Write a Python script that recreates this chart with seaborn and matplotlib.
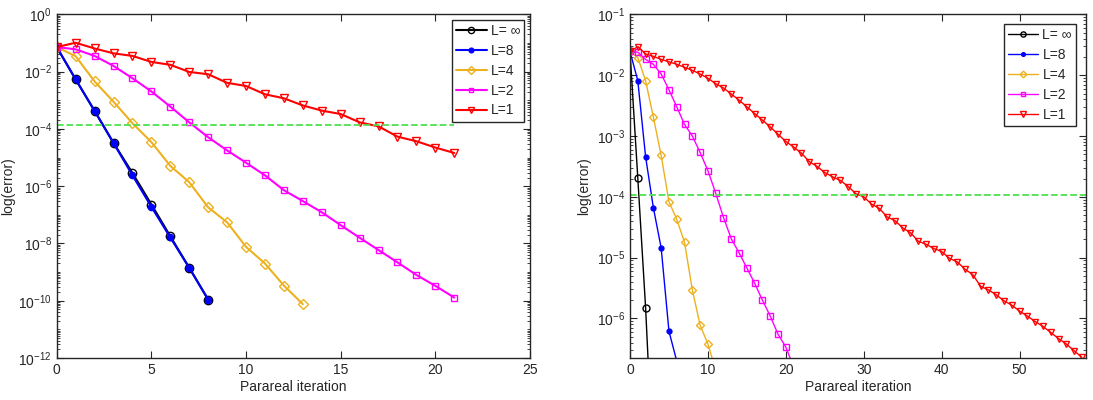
import numpy as np
import pandas as pd
import matplotlib
matplotlib.use("Agg")
import matplotlib.pyplot as plt
import seaborn as sns
from matplotlib.ticker import LogLocator, LogFormatterSciNotation, FixedLocator, NullFormatter

# ------------------------ DATA (log10 of error) --------------------------

LABELS = ["L= \u221e", "L=8", "L=4", "L=2", "L=1"]

# left panel
left_inf = [-1.14, -2.27, -3.37, -4.49, -5.54, -6.64, -7.75, -8.85, -9.96]
left_l8 = [-1.14, -2.27, -3.37, -4.49, -5.62, -6.72, -7.79, -8.85, -9.96]
left_l4 = [-1.14, -1.46, -2.34, -3.05, -3.80, -4.46, -5.29, -5.86, -6.74, -7.26,
           -8.12, -8.70, -9.47, -10.12]
left_l2 = [-1.14, -1.22, -1.45, -1.80, -2.23, -2.69, -3.22, -3.77, -4.29, -4.75,
           -5.18, -5.62, -6.14, -6.52, -6.91, -7.36, -7.80, -8.23, -8.66, -9.10,
           -9.48, -9.89]
left_l1 = [-1.14, -0.99, -1.19, -1.36, -1.45, -1.66, -1.76, -2.01, -2.09, -2.39,
           -2.50, -2.79, -2.93, -3.18, -3.36, -3.48, -3.77, -3.91, -4.27, -4.43,
           -4.65, -4.84]
left_tol = 1.4e-4

# right panel
right_inf = [-1.61, -3.69, -5.82, -8.5]
right_l8 = [-1.61, -2.09, -3.34, -4.18, -4.84, -6.21, -6.70]
right_l4 = [-1.61, -1.71, -2.09, -2.69, -3.32, -4.08, -4.37, -4.75, -5.53, -6.11,
            -6.42, -6.85]
right_l2 = [-1.61, -1.62, -1.74, -1.82, -1.98, -2.24, -2.52, -2.81, -3.00, -3.27,
            -3.57, -3.94, -4.34, -4.69, -4.92, -5.17, -5.42, -5.70, -5.96, -6.26,
            -6.47, -6.80]
right_l1 = [-1.61, -1.53, -1.65, -1.69, -1.74, -1.78, -1.82, -1.87, -1.92, -1.98,
            -2.05, -2.14, -2.21, -2.31, -2.41, -2.52, -2.63, -2.74, -2.85, -2.97,
            -3.09, -3.18, -3.28, -3.42, -3.50, -3.60, -3.67, -3.73, -3.83, -3.95,
            -4.00, -4.12, -4.19, -4.33, -4.39, -4.51, -4.59, -4.73, -4.78, -4.85,
            -4.90, -5.01, -5.07, -5.19, -5.28, -5.47, -5.53, -5.61, -5.71, -5.78,
            -5.88, -5.96, -6.05, -6.13, -6.23, -6.33, -6.42, -6.53, -6.64]
right_tol = 1.07e-4

# ------------------------ STYLE --------------------------

COLORS = ["black", "#0000ff", "#edb120", "#ff00ff", "#ff0000"]
MARKERS = ["o", ".", "D", "s", "v"]
MSIZE_LEFT = [6, 9, 5, 4.5, 6]
MSIZE_RIGHT = [5, 7, 4.5, 4.5, 5]
EDGE = "#262626"

sns.set_style("ticks")
plt.rcParams["font.family"] = ["Liberation Sans", "DejaVu Sans"]
plt.rcParams["mathtext.fontset"] = "custom"
plt.rcParams["mathtext.rm"] = "Liberation Sans"
plt.rcParams["mathtext.default"] = "regular"


def draw_series(ax, series, msizes, lw):
    for i, vals in enumerate(series):
        df = pd.DataFrame({"it": np.arange(len(vals)), "err": 10.0 ** np.array(vals)})
        face = COLORS[i] if MARKERS[i] == "." else "none"
        sns.lineplot(data=df, x="it", y="err", ax=ax, color=COLORS[i],
                     marker=MARKERS[i], markersize=msizes[i], markerfacecolor=face,
                     markeredgecolor=COLORS[i], markeredgewidth=1.0, lw=lw,
                     label=LABELS[i], clip_on=True)


def style_axes(ax, pad):
    ax.set_yscale("log")
    for s in ax.spines.values():
        s.set_visible(True)
        s.set_color(EDGE)
        s.set_linewidth(1.0)
    ax.tick_params(which="both", direction="in", top=True, right=True,
                   colors=EDGE, labelsize=10, labelcolor=EDGE)
    ax.tick_params(which="major", length=5)
    ax.tick_params(which="minor", length=2.5)
    ax.set_xlabel("Parareal iteration", fontsize=10, color=EDGE, labelpad=2)
    ax.set_ylabel("log(error)", fontsize=10, color=EDGE)
    leg = ax.legend(loc="upper right", fontsize=10, frameon=True, fancybox=False,
                    handlelength=2.2, borderpad=0.3, labelspacing=0.42,
                    handletextpad=0.3, borderaxespad=pad, markerscale=0.75)
    leg.get_frame().set_edgecolor(EDGE)
    leg.get_frame().set_linewidth(1.0)
    leg.get_frame().set_alpha(1.0)


fig = plt.figure(figsize=(10.93, 4.0), dpi=100)
ax1 = fig.add_axes([0.0519, 0.105, 0.433, 0.859])
ax2 = fig.add_axes([0.5764, 0.105, 0.417, 0.859])

# left panel
draw_series(ax1, [left_inf, left_l8, left_l4, left_l2, left_l1], MSIZE_LEFT, 1.5)
ax1.plot([0, len(left_l1) - 1], [left_tol, left_tol], "--", color="#4ee04e", lw=1.3)
style_axes(ax1, 0.4)
ax1.set_xlim(0, 25)
ax1.set_ylim(1e-12, 1e0)
ax1.set_xticks([0, 5, 10, 15, 20, 25])
ax1.yaxis.set_major_locator(FixedLocator([10.0 ** k for k in range(-12, 1, 2)]))
ax1.yaxis.set_major_formatter(LogFormatterSciNotation())
ax1.yaxis.set_minor_locator(LogLocator(base=10, subs=np.arange(1, 10), numticks=100))
ax1.yaxis.set_minor_formatter(NullFormatter())
ax1.yaxis.labelpad = 2

# right panel
draw_series(ax2, [right_inf, right_l8, right_l4, right_l2, right_l1], MSIZE_RIGHT, 1.0)
ax2.plot([0, 58.5], [right_tol, right_tol], "--", color="#4ee04e", lw=1.3)
style_axes(ax2, 0.7)
ax2.set_xlim(0, 58.5)
ax2.set_ylim(10 ** -6.65, 1e-1)
ax2.set_xticks([0, 10, 20, 30, 40, 50])
ax2.yaxis.set_major_locator(FixedLocator([10.0 ** k for k in range(-6, 0)]))
ax2.yaxis.set_major_formatter(LogFormatterSciNotation())
ax2.yaxis.set_minor_locator(LogLocator(base=10, subs=np.arange(2, 10), numticks=100))
ax2.yaxis.set_minor_formatter(NullFormatter())

fig.savefig("out.png", dpi=100)
